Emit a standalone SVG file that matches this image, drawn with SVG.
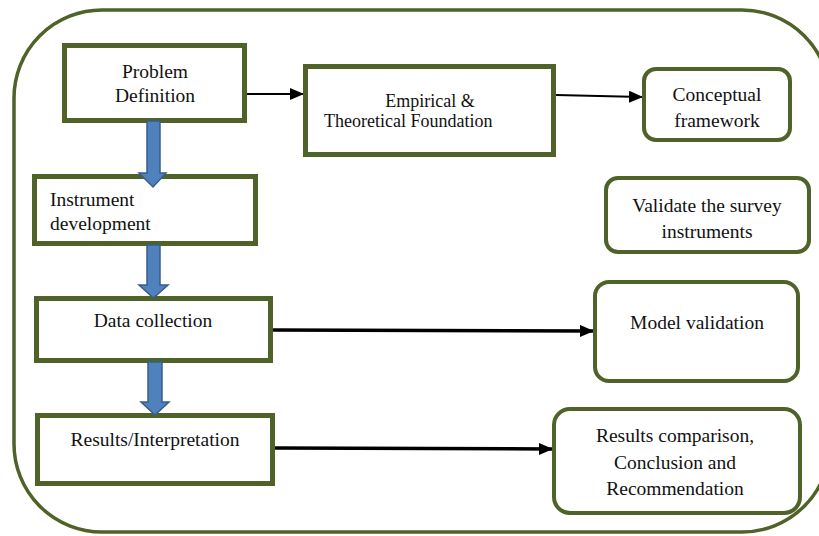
<svg xmlns="http://www.w3.org/2000/svg" width="819" height="536" viewBox="0 0 819 536">
  <defs>
    <marker id="arrowhead" markerUnits="userSpaceOnUse" markerWidth="14" markerHeight="12" refX="13" refY="6" orient="auto">
      <path d="M0,0 L14,6 L0,12 Z" fill="#000"/>
    </marker>
    <style>
      .frame { fill: none; stroke: #4f6228; stroke-width: 3.5; }
      .box { fill: #fff; stroke: #4f6228; stroke-width: 5; }
      .rbox { fill: #fff; stroke: #4f6228; stroke-width: 4; }
      .lbl { font-size: 19.5px; fill: #111; }
      .mid { text-anchor: middle; }
      .link { fill: none; stroke: #000; marker-end: url(#arrowhead); }
      .thin { stroke-width: 2; }
      .thick { stroke-width: 3.5; }
      .flow { fill: #4f81bd; stroke: #385d8a; stroke-width: 1.5; }
    </style>
  </defs>

  <rect width="819" height="536" fill="#fff"/>

  <!-- outer rounded frame -->
  <rect class="frame" x="14" y="10" width="816" height="522" rx="88" ry="88"/>

  <g id="connectors">
    <line class="link thin" x1="247" y1="94" x2="303" y2="94"/>
    <line class="link thin" x1="556" y1="95" x2="642" y2="97"/>
    <line class="link thick" x1="273" y1="330" x2="593" y2="331"/>
    <line class="link thick" x1="275" y1="448" x2="552" y2="449"/>
  </g>

  <g font-family="'Liberation Serif', 'DejaVu Serif', serif">
    <g id="problem-definition">
      <rect class="box" x="64.5" y="45.5" width="180" height="75"/>
      <text class="lbl mid" x="155" y="78">Problem</text>
      <text class="lbl mid" x="155" y="102">Definition</text>
    </g>

    <g id="empirical-foundation">
      <rect class="box" x="305.5" y="66.5" width="248" height="88"/>
      <text class="lbl mid" x="430" y="107" style="font-size:18px">Empirical &amp;</text>
      <text class="lbl" x="324" y="127" style="font-size:18px">Theoretical Foundation</text>
    </g>

    <g id="conceptual-framework">
      <rect class="rbox" x="644" y="69" width="146" height="71" rx="12"/>
      <text class="lbl mid" x="717" y="101">Conceptual</text>
      <text class="lbl mid" x="717" y="127">framework</text>
    </g>

    <g id="validate-instruments">
      <rect class="rbox" x="606" y="178" width="203" height="74" rx="12"/>
      <text class="lbl mid" x="707" y="212">Validate the survey</text>
      <text class="lbl mid" x="707" y="238">instruments</text>
    </g>

    <g id="instrument-development">
      <rect class="box" x="34.5" y="176.5" width="221" height="67"/>
      <text class="lbl" x="50" y="206">Instrument</text>
      <text class="lbl" x="50" y="230">development</text>
    </g>

    <g id="data-collection">
      <rect class="box" x="36.5" y="298.5" width="234" height="62"/>
      <text class="lbl mid" x="153" y="327">Data collection</text>
    </g>

    <g id="results-interpretation">
      <rect class="box" x="37.5" y="415.5" width="235" height="68"/>
      <text class="lbl mid" x="155" y="446">Results/Interpretation</text>
    </g>

    <g id="model-validation">
      <rect class="rbox" x="595" y="282" width="203" height="99" rx="14"/>
      <text class="lbl mid" x="697" y="329">Model validation</text>
    </g>

    <g id="results-comparison">
      <rect class="rbox" x="554" y="409" width="246" height="104" rx="16"/>
      <text class="lbl mid" x="675" y="442">Results comparison,</text>
      <text class="lbl mid" x="675" y="469">Conclusion and</text>
      <text class="lbl mid" x="675" y="495">Recommendation</text>
    </g>
  </g>

  <!-- downward block arrows between process steps -->
  <g id="flow-arrows">
    <path class="flow" d="M147,121 H160 V173 H166 L153,187 L139,173 H147 Z"/>
    <path class="flow" d="M147,245 H160 V285 H168 L153.5,298 L139,285 H147 Z"/>
    <path class="flow" d="M148,362 H162 V402 H169 L155,415 L141,402 H148 Z"/>
  </g>
</svg>
